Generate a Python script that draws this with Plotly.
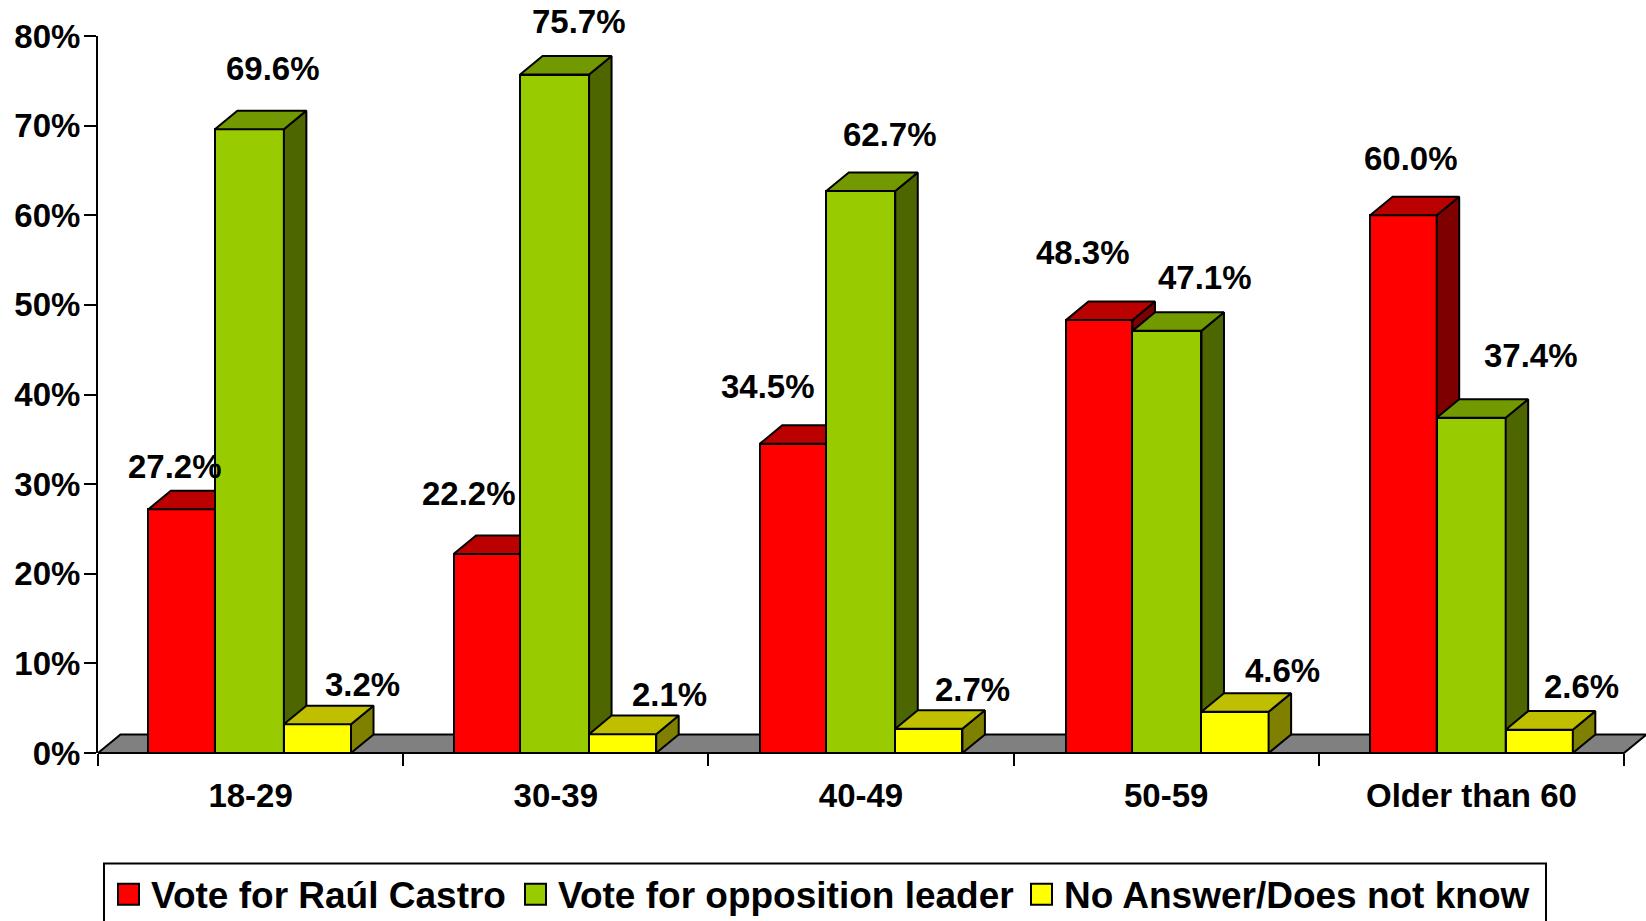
import plotly.graph_objects as go

# ---- data ----
categories = ["18-29", "30-39", "40-49", "50-59", "Older than 60"]
castro = [27.2, 22.2, 34.5, 48.3, 60.0]
opposition = [69.6, 75.7, 62.7, 47.1, 37.4]
no_answer = [3.2, 2.1, 2.7, 4.6, 2.6]
legend_names = ["Vote for Raúl Castro", "Vote for opposition leader", "No Answer/Does not know"]
y_ticks = [0, 10, 20, 30, 40, 50, 60, 70, 80]
y_tick_labels = ["0%", "10%", "20%", "30%", "40%", "50%", "60%", "70%", "80%"]

# ---- style ----
FONT = "Liberation Sans"
W, H = 1646, 921
AX_L, AX_T, Y0 = 98, 35.7, 753.5
PAD = 3
CAT_PX = 305.2
PX_PER_PCT = (Y0 - AX_T) / 80
DX = 22.5 / CAT_PX
DY = 18.6 / PX_PER_PCT
X_RANGE = [-0.5, 4.5 + (W - (AX_L + 5 * CAT_PX)) / CAT_PX]
group_shift_px = [0, 0, 1, 2, 1]
series_styles = [
    dict(vals=castro, left=-0.335, right=-0.117, front="#FF0000", top="#BB0000", side="#7F0000",
         dx=[-7, -18, -25, -16, 8], dy=[43, 61, 57, 68, 57]),
    dict(vals=opposition, left=-0.117, right=0.109, front="#99CC00", top="#739900", side="#4D6600",
         dx=[24, 24, 29, 38, 60], dy=[61, 53, 57, 53, 62]),
    dict(vals=no_answer, left=0.109, right=0.329, front="#FFFF00", top="#BFBF00", side="#808000",
         dx=[45, 47, 44, 47, 42], dy=[40, 40, 39, 41, 43]),
]
legend_swatch_x = [118, 525, 1031]
legend_text_x = [149, 556, 1062]
LEG_BOX = (104, 864, 1546, 935)

plot_h = Y0 + PAD - AX_T
plot_w = W - AX_L
px = lambda x: (x - AX_L) / plot_w
py = lambda y: 1 - (y - AX_T) / plot_h

fig = go.Figure()
# base subplot: carries the visible axes
fig.add_trace(go.Scatter(x=categories, y=[0] * 5, mode="markers", marker=dict(opacity=0),
                         showlegend=False, hoverinfo="skip", xaxis="x", yaxis="y"))


def polys(items):
    xs, ys = [], []
    for poly in items:
        xs += [p[0] for p in poly] + [poly[0][0], None]
        ys += [p[1] for p in poly] + [poly[0][1], None]
    return xs, ys


def face(items, color, xa, ya):
    xs, ys = polys(items)
    fig.add_trace(go.Scatter(x=xs, y=ys, mode="lines", fill="toself", fillcolor=color,
                             line=dict(color="black", width=2), showlegend=False,
                             hoverinfo="skip", xaxis=xa, yaxis=ya))


# floor
face([[(-0.5, 0), (4.5, 0), (4.5 + DX, DY), (-0.5 + DX, DY)]], "#808080", "x2", "y2")

annotations = []
for n, s in enumerate(series_styles):
    xa, ya = f"x{n + 3}", f"y{n + 3}"
    idx = [i + sh / CAT_PX for i, sh in enumerate(group_shift_px)]
    fig.add_trace(go.Bar(x=idx, y=s["vals"], width=s["right"] - s["left"], offset=s["left"],
                         marker=dict(color=s["front"], line=dict(color="black", width=2)),
                         name=legend_names[n], showlegend=False, xaxis=xa, yaxis=ya))
    sides, tops = [], []
    for i, (c, v) in enumerate(zip(idx, s["vals"])):
        l, r = c + s["left"], c + s["right"]
        sides.append([(r, 0), (r + DX, DY), (r + DX, v + DY), (r, v)])
        tops.append([(l, v), (l + DX, v + DY), (r + DX, v + DY), (r, v)])
        annotations.append(dict(x=(l + r) / 2, y=v, xref=xa, yref=ya, text=f"{v:.1f}%",
                                showarrow=False, xshift=s["dx"][i], yshift=s["dy"][i],
                                xanchor="center", yanchor="middle",
                                font=dict(family=FONT, size=33, color="black", weight="bold")))
    face(sides, s["side"], xa, ya)
    face(tops, s["top"], xa, ya)

# legend, drawn as real text and rectangles
shapes = [dict(type="rect", xref="paper", yref="paper", x0=px(LEG_BOX[0]), x1=px(LEG_BOX[2]),
               y0=py(LEG_BOX[3]), y1=py(LEG_BOX[1]), line=dict(color="black", width=2),
               fillcolor="white")]
for name, s, sx, tx in zip(legend_names, series_styles, legend_swatch_x, legend_text_x):
    shapes.append(dict(type="rect", xref="paper", yref="paper", x0=px(sx), x1=px(sx + 21),
                       y0=py(905.5), y1=py(884.5), line=dict(color="black", width=2),
                       fillcolor=s["front"]))
    annotations.append(dict(x=px(tx), y=py(896.5), xref="paper", yref="paper", text=name,
                            showarrow=False, xanchor="left", yanchor="middle",
                            font=dict(family=FONT, size=37, color="black", weight="bold")))

layout = dict(
    width=W, height=H, autosize=False,
    margin=dict(l=AX_L, r=0, t=AX_T, b=H - Y0 - PAD, pad=0),
    paper_bgcolor="white", plot_bgcolor="rgba(0,0,0,0)",
    showlegend=False, bargap=0,
    annotations=annotations, shapes=shapes,
    font=dict(family=FONT, color="black"),
    xaxis=dict(type="category", categoryorder="array", categoryarray=categories,
               range=X_RANGE, tickson="boundaries", ticks="outside", ticklen=12, tickwidth=2,
               tickcolor="black", showline=False, showgrid=False, zeroline=False,
               ticklabelstandoff=20, fixedrange=True, anchor="y",
               tickfont=dict(family=FONT, size=33, color="black", weight="bold")),
    yaxis=dict(domain=[PAD / plot_h, 1], range=[0, 80], tickmode="array", tickvals=y_ticks,
               ticktext=y_tick_labels, ticklabelstandoff=-3,
               ticks="outside", ticklen=12, tickwidth=2, tickcolor="black", showline=True,
               linewidth=2, linecolor="black", showgrid=False, zeroline=False, fixedrange=True,
               anchor="x", tickfont=dict(family=FONT, size=33, color="black", weight="bold")),
)
for k in range(2, 6):
    layout[f"xaxis{k}"] = dict(domain=[0, 1], range=X_RANGE, visible=False, fixedrange=True,
                               anchor=f"y{k}")
    layout[f"yaxis{k}"] = dict(domain=[0, 1], range=[-PAD / PX_PER_PCT, 80], visible=False,
                               fixedrange=True, anchor=f"x{k}")
fig.update_layout(**layout)
fig.write_html("out.html", config=dict(displayModeBar=False),
               post_script="document.body.style.margin='0';document.body.style.overflow='hidden';")
